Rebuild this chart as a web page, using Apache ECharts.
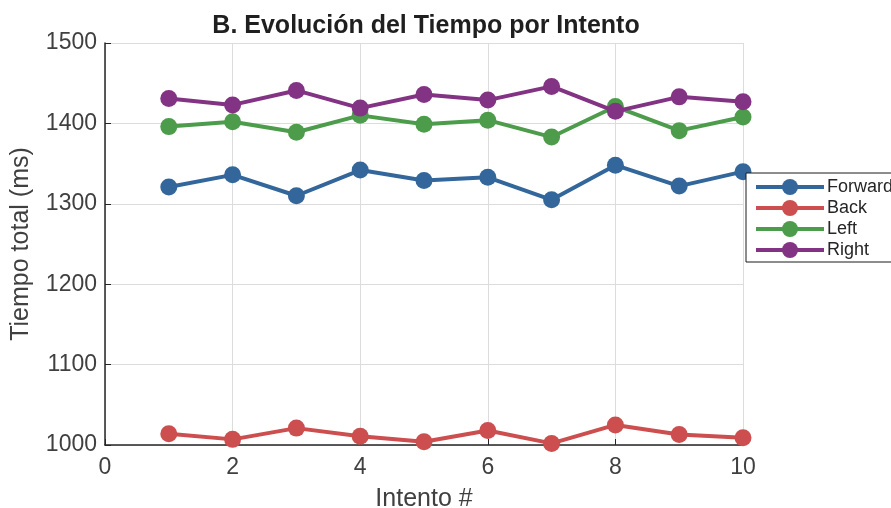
<!DOCTYPE html>
<html>
<head>
<meta charset="utf-8">
<script src="https://cdn.jsdelivr.net/npm/echarts@6/dist/echarts.min.js"></script>
<style>
html,body{margin:0;padding:0;background:#fff;}
#chart{width:891px;height:508px;}
</style>
</head>
<body>
<div id="chart"></div>
<script>
var attempts = [1, 2, 3, 4, 5, 6, 7, 8, 9, 10];
var forward = [1321, 1336, 1310, 1342, 1329, 1333, 1305, 1348, 1322, 1340];
var back = [1014, 1007, 1021, 1011, 1004, 1018, 1002, 1025, 1013, 1009];
var left = [1396, 1402, 1389, 1410, 1399, 1404, 1383, 1421, 1391, 1408];
var right = [1431, 1423, 1441, 1419, 1436, 1429, 1446, 1415, 1433, 1427];
var seriesNames = ['Forward', 'Back', 'Left', 'Right'];
var seriesColors = ['#33679b', '#cc4e4e', '#4c9c4c', '#833384'];
var seriesValues = [forward, back, left, right];

var FONT = 'Liberation Sans, Arial, sans-serif';

function pairs(vals) {
  return attempts.map(function (a, i) { return [a, vals[i]]; });
}

var chart = echarts.init(document.getElementById('chart'), null, {renderer: 'canvas'});
chart.setOption({
  animation: false,
  backgroundColor: '#ffffff',
  title: {
    text: 'B. Evolución del Tiempo por Intento',
    left: 426,
    textAlign: 'center',
    top: 14,
    padding: 0,
    textStyle: {fontFamily: FONT, fontSize: 25, fontWeight: 'bold', color: '#1f1f1f'}
  },
  legend: {
    orient: 'vertical',
    left: 746,
    top: 173,
    padding: [5, 10, 3, 8],
    itemGap: 3,
    itemWidth: 68,
    itemHeight: 20,
    backgroundColor: '#ffffff',
    borderColor: '#1a1a1a',
    borderWidth: 1,
    borderRadius: 0,
    lineStyle: {width: 4},
    textStyle: {fontFamily: FONT, fontSize: 18, color: '#262626', padding: [0, 0, 0, -2]},
    data: seriesNames
  },
  grid: {left: 105, right: 148, top: 43, bottom: 63, containLabel: false, outerBoundsMode: 'none'},
  xAxis: {
    type: 'value',
    min: 0, max: 10, interval: 2,
    name: 'Intento #',
    nameLocation: 'middle',
    nameGap: 42,
    nameTextStyle: {fontFamily: FONT, fontSize: 25, color: '#404040'},
    axisLine: {show: true, onZero: false, lineStyle: {color: '#262626', width: 1.5}},
    axisTick: {show: true, inside: true, length: 6, lineStyle: {color: '#262626'}},
    axisLabel: {fontFamily: FONT, fontSize: 23, color: '#404040', margin: 11,
      formatter: function (v) { return String(v); }},
    splitLine: {show: true, lineStyle: {color: '#dcdcdc', width: 1}}
  },
  yAxis: {
    type: 'value',
    min: 1000, max: 1500, interval: 100,
    name: 'Tiempo total (ms)',
    nameLocation: 'middle',
    nameGap: 71,
    nameTextStyle: {fontFamily: FONT, fontSize: 25, color: '#404040'},
    axisLine: {show: true, onZero: false, lineStyle: {color: '#262626', width: 1.5}},
    axisTick: {show: true, inside: true, length: 6, lineStyle: {color: '#262626'}},
    axisLabel: {fontFamily: FONT, fontSize: 23, color: '#404040', margin: 8,
      formatter: function (v) { return String(v); }},
    splitLine: {show: true, lineStyle: {color: '#dcdcdc', width: 1}}
  },
  series: seriesNames.map(function (name, i) {
    return {
      name: name,
      type: 'line',
      data: pairs(seriesValues[i]),
      symbol: 'circle',
      symbolSize: 17,
      showSymbol: true,
      color: seriesColors[i],
      lineStyle: {width: 4, color: seriesColors[i]},
      itemStyle: {color: seriesColors[i]},
      clip: false,
      z: 2 + i
    };
  })
});
</script>
</body>
</html>
